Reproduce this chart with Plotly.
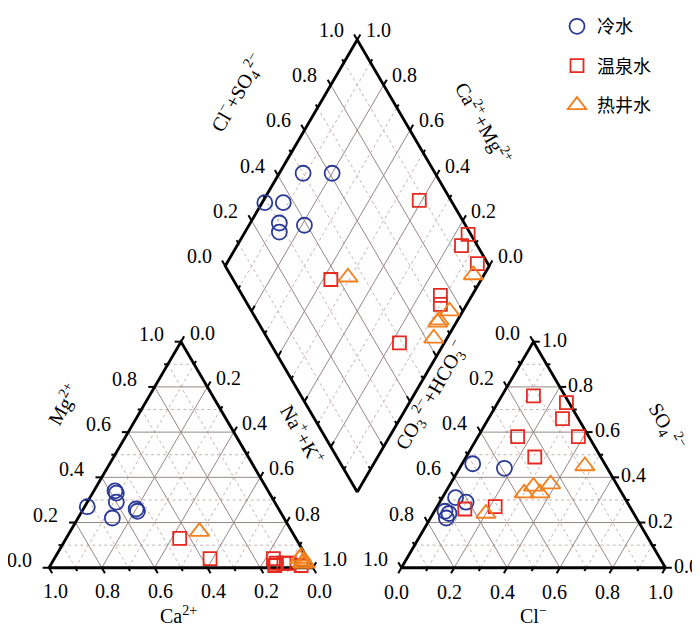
import numpy as np
import plotly.graph_objects as go

# ---- sample data (fractions) ----
# cations: Ca2+, Mg2+, Na+ + K+
cold_ca = [0.72, 0.58, 0.58, 0.60, 0.65, 0.54, 0.54]
cold_mg = [0.27, 0.34, 0.33, 0.29, 0.22, 0.26, 0.25]
cold_na = [0.01, 0.08, 0.09, 0.11, 0.13, 0.20, 0.21]
# anions: CO3 2- + HCO3-, Cl-, SO4 2-
cold_hco3 = [0.71, 0.64, 0.50, 0.70, 0.72, 0.39, 0.61]
cold_cl = [0.04, 0.05, 0.04, 0.06, 0.06, 0.17, 0.10]
cold_so4 = [0.25, 0.31, 0.46, 0.24, 0.22, 0.44, 0.29]

spring_ca = [0.37, 0.13, 0.14, 0.04, 0.44, 0.10, 0.08, 0.13]
spring_mg = [0.04, 0.02, 0.01, 0.01, 0.13, 0.02, 0.02, 0.04]
spring_na = [0.59, 0.85, 0.85, 0.95, 0.43, 0.88, 0.90, 0.83]
spring_hco3 = [0.12, 0.01, 0.06, 0.04, 0.63, 0.25, 0.27, 0.51]
spring_cl = [0.12, 0.26, 0.28, 0.38, 0.11, 0.26, 0.15, 0.22]
spring_so4 = [0.76, 0.73, 0.66, 0.58, 0.26, 0.49, 0.58, 0.27]

well_ca = [0.35, 0.02, 0.02, 0.03, 0.02, 0.03]
well_mg = [0.16, 0.02, 0.03, 0.04, 0.05, 0.02]
well_na = [0.49, 0.96, 0.95, 0.93, 0.93, 0.95]
well_hco3 = [0.56, 0.08, 0.25, 0.31, 0.32, 0.37]
well_cl = [0.20, 0.47, 0.38, 0.36, 0.32, 0.30]
well_so4 = [0.24, 0.45, 0.37, 0.33, 0.36, 0.33]

tick_vals = [0.0, 0.2, 0.4, 0.6, 0.8, 1.0]

# ---- piper geometry ----
H = np.sqrt(3) / 2
GAP = 0.335
OFF = 1 + GAP
BX, BY = 1 + GAP / 2, GAP * H  # bottom corner of the diamond


def cat_xy(ca, mg, na):
    ca, mg, na = np.asarray(ca), np.asarray(mg), np.asarray(na)
    return na + 0.5 * mg, H * mg


def an_xy(hco3, cl, so4):
    hco3, cl, so4 = np.asarray(hco3), np.asarray(cl), np.asarray(so4)
    return OFF + cl + 0.5 * so4, H * so4


def dia_xy(a, c):
    # a = Cl- + SO4 2-, c = Na+ + K+
    a, c = np.asarray(a), np.asarray(c)
    return BX + 0.5 * (a + c - 1), BY + H * (a + 1 - c)


solid_x, solid_y, dot_x, dot_y = [], [], [], []
for k in range(1, 10):
    t = k / 10
    segs = [
        (cat_xy(1 - t, t, 0), cat_xy(0, t, 1 - t)),
        (cat_xy(t, 1 - t, 0), cat_xy(t, 0, 1 - t)),
        (cat_xy(1 - t, 0, t), cat_xy(0, 1 - t, t)),
        (an_xy(1 - t, t, 0), an_xy(0, t, 1 - t)),
        (an_xy(t, 1 - t, 0), an_xy(t, 0, 1 - t)),
        (an_xy(1 - t, 0, t), an_xy(0, 1 - t, t)),
        (dia_xy(t, 0), dia_xy(t, 1)),
        (dia_xy(0, t), dia_xy(1, t)),
    ]
    for p, q in segs:
        xs, ys = (solid_x, solid_y) if k % 2 == 0 else (dot_x, dot_y)
        xs.extend([float(p[0]), float(q[0]), None])
        ys.extend([float(p[1]), float(q[1]), None])

# outlines
outline = [
    [cat_xy(1, 0, 0), cat_xy(0, 0, 1), cat_xy(0, 1, 0), cat_xy(1, 0, 0)],
    [an_xy(1, 0, 0), an_xy(0, 1, 0), an_xy(0, 0, 1), an_xy(1, 0, 0)],
    [dia_xy(0, 1), dia_xy(0, 0), dia_xy(1, 0), dia_xy(1, 1), dia_xy(0, 1)],
]
edge_x, edge_y = [], []
for poly in outline:
    edge_x += [float(p[0]) for p in poly] + [None]
    edge_y += [float(p[1]) for p in poly] + [None]

# axes: point function, tick direction, label offset (px), label text function
axes = [
    (lambda t: cat_xy(t, 0, 1 - t), (0.5, -H), (6, -23), lambda t: t),
    (lambda t: cat_xy(1 - t, t, 0), (-1, 0), (-30, 8), lambda t: t),
    (lambda t: cat_xy(0, 1 - t, t), (0.5, H), (21, 9), lambda t: t),
    (lambda t: an_xy(1 - t, t, 0), (-0.5, -H), (-5, -24), lambda t: t),
    (lambda t: an_xy(0, 1 - t, t), (1, 0), (21, 2), lambda t: t),
    (lambda t: an_xy(t, 0, 1 - t), (-0.5, H), (-26, 9), lambda t: t),
    (lambda t: dia_xy(t, 0), (-0.5, H), (-26, 10), lambda t: t),
    (lambda t: dia_xy(1, t), (0.5, H), (21, 10), lambda t: 1 - t),
    (lambda t: dia_xy(0, t), (0.5, H), None, None),
    (lambda t: dia_xy(t, 1), (-0.5, H), None, None),
]

tick_x, tick_y = [], []
annotations = []
for fn, (dx, dy), shift, lab in axes:
    for k in range(11):
        t = k / 10
        px, py = fn(t)
        L = 0.024 if k % 2 == 0 else 0.014
        tick_x += [float(px), float(px + dx * L), None]
        tick_y += [float(py), float(py + dy * L), None]
    if shift is None:
        continue
    for t in tick_vals:
        px, py = fn(t)
        annotations.append(dict(
            x=float(px), y=float(py), text=f"{lab(t):.1f}", showarrow=False,
            xshift=shift[0], yshift=shift[1],
            font=dict(family="Liberation Serif", size=20, color="black"),
        ))

titles = [
    (cat_xy(0.5, 0, 0.5), (-3, -47), 0, "Ca<sup>2+</sup>"),
    (cat_xy(0.5, 0.5, 0), (-52, 50), -60, "Mg<sup>2+</sup>"),
    (cat_xy(0, 0.5, 0.5), (56, 21), 60, "Na<sup>+</sup>+K<sup>+</sup>"),
    (an_xy(0.5, 0.5, 0), (0, -47), 0, "Cl<sup>−</sup>"),
    (an_xy(0, 0.5, 0.5), (67, 28), 60, "SO<sub>4</sub><sup> 2−</sup>"),
    (an_xy(0.5, 0, 0.5), (-36, 60), -60, "CO<sub>3</sub><sup> 2−</sup>+HCO<sub>3</sub><sup>−</sup>"),
    (dia_xy(0.5, 0), (-53, 60), -60, "Cl<sup>−</sup>+SO<sub>4</sub><sup>2−</sup>"),
    (dia_xy(1, 0.5), (60, 30), 60, "Ca<sup>2+</sup>+Mg<sup>2+</sup>"),
]
for (px, py), (sx, sy), ang, txt in titles:
    annotations.append(dict(
        x=float(px), y=float(py), text=txt, showarrow=False, textangle=ang,
        xshift=sx, yshift=sy,
        font=dict(family="Liberation Serif", size=20, color="black"),
    ))

fig = go.Figure()
fig.add_trace(go.Scatter(x=dot_x, y=dot_y, mode="lines", hoverinfo="skip", showlegend=False,
                         line=dict(color="#c6b3b3", width=1, dash="dot")))
fig.add_trace(go.Scatter(x=solid_x, y=solid_y, mode="lines", hoverinfo="skip", showlegend=False,
                         line=dict(color="#978787", width=1)))
fig.add_trace(go.Scatter(x=tick_x, y=tick_y, mode="lines", hoverinfo="skip", showlegend=False,
                         line=dict(color="black", width=2)))
fig.add_trace(go.Scatter(x=edge_x, y=edge_y, mode="lines", hoverinfo="skip", showlegend=False,
                         line=dict(color="black", width=2.8)))

groups = [
    ("冷水", cold_ca, cold_mg, cold_na, cold_hco3, cold_cl, cold_so4, "circle-open", 15, "#2a3a96"),
    ("温泉水", spring_ca, spring_mg, spring_na, spring_hco3, spring_cl, spring_so4, "square-open", 13, "#e52a1f"),
    ("热井水", well_ca, well_mg, well_na, well_hco3, well_cl, well_so4, "triangle-up-open", 17, "#f2801e"),
]
for name, ca, mg, na, hco3, cl, so4, sym, size, color in groups:
    cx, cy = cat_xy(ca, mg, na)
    ax, ay = an_xy(hco3, cl, so4)
    a = np.asarray(cl) + np.asarray(so4)
    dx, dy = dia_xy(a, na)
    fig.add_trace(go.Scatter(
        x=np.concatenate([cx, dx, ax]), y=np.concatenate([cy, dy, ay]),
        mode="markers", name=name, legendgroup=name,
        marker=dict(symbol=sym, size=size, color=color, line=dict(width=1.8, color=color)),
    ))

SCALE = 264
fig.update_layout(
    width=700, height=627,
    margin=dict(l=0, r=0, t=0, b=0),
    paper_bgcolor="white", plot_bgcolor="white",
    xaxis=dict(range=[-41 / SCALE, 659 / SCALE], visible=False, fixedrange=True),
    yaxis=dict(range=[-68 / SCALE, 559 / SCALE], visible=False, fixedrange=True),
    annotations=annotations,
    showlegend=True,
    legend=dict(x=549 / 700, y=1 + 7 / 627, xanchor="left", yanchor="top",
                font=dict(family="Noto Sans CJK SC", size=18, color="black"),
                tracegroupgap=13, bgcolor="rgba(0,0,0,0)"),
)

fig.write_html("out.html")
